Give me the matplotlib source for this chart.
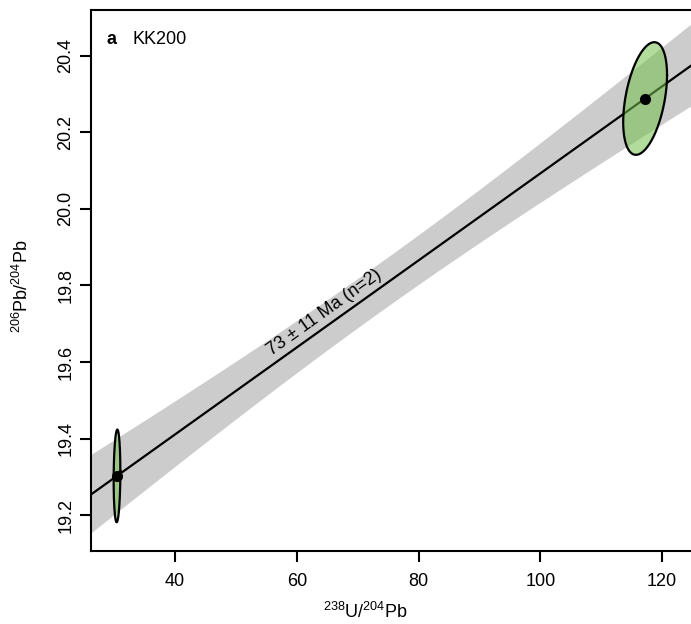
import numpy as np
import matplotlib
matplotlib.use('agg')
import matplotlib.pyplot as plt

plt.rcParams['font.family'] = ['Liberation Sans', 'DejaVu Sans']
plt.rcParams['mathtext.fontset'] = 'custom'
plt.rcParams['mathtext.rm'] = 'Liberation Sans'

# data (238U/204Pb, 206Pb/204Pb) with 2-sigma half extents and error correlation
x = [30.47, 117.2]
y = [19.303, 20.288]
ex = [0.55, 3.6]
ey = [0.121, 0.147]
rho = [0.1, 0.42]

# isochron fit
slope = (y[1] - y[0]) / (x[1] - x[0])
intercept = y[0] - slope * x[0]
band_a = 0.064      # half width of the band at the centroid
band_b = 0.00168    # growth of half width with distance from centroid
age_label = '73 ± 11 Ma (n=2)'

fig = plt.figure(figsize=(6.91, 6.24), dpi=100)
ax = fig.add_axes([91 / 691, 73 / 624, 615 / 691, 541 / 624])
ax.set_xlim(26.2, 127.2)
ax.set_ylim(19.107, 20.519)

xs = np.linspace(20, 135, 300)
yfit = intercept + slope * xs
xc = np.mean(x)
hw = np.sqrt(band_a ** 2 + band_b ** 2 * (xs - xc) ** 2)
ax.fill_between(xs, yfit - hw, yfit + hw, color='#cccccc', lw=0, zorder=1)
ax.plot(xs, yfit, color='black', lw=1.6, zorder=2)

t = np.linspace(0, 2 * np.pi, 200)
for i in range(len(x)):
    px = x[i] + ex[i] * np.cos(t)
    py = y[i] + ey[i] * (rho[i] * np.cos(t) + np.sqrt(1 - rho[i] ** 2) * np.sin(t))
    ax.fill(px, py, facecolor='#74c04c', alpha=0.55, edgecolor='none', zorder=3)
    ax.plot(px, py, color='black', lw=1.6, zorder=4)
ax.plot(x, y, 'o', color='black', ms=7, zorder=5)

# age label along the line
fig.canvas.draw()
lx = 65.3
p1 = ax.transData.transform((lx, intercept + slope * lx))
p2 = ax.transData.transform((lx + 10, intercept + slope * (lx + 10)))
ang = np.degrees(np.arctan2(p2[1] - p1[1], p2[0] - p1[0]))
ax.text(lx, intercept + slope * lx + 0.014, age_label, rotation=ang,
        rotation_mode='anchor', ha='center', va='bottom', fontsize=13, zorder=6)

ax.text(0.026, 0.962, 'a', transform=ax.transAxes, fontsize=13,
        fontweight='bold', va='top', ha='left')
ax.text(0.068, 0.962, 'KK200', transform=ax.transAxes, fontsize=13,
        va='top', ha='left')

ax.set_xticks([40, 60, 80, 100, 120])
ax.set_yticks([19.2, 19.4, 19.6, 19.8, 20.0, 20.2, 20.4])
ax.set_yticklabels(['19.2', '19.4', '19.6', '19.8', '20.0', '20.2', '20.4'],
                   rotation=90, va='center')
ax.tick_params(axis='both', direction='out', length=8, width=1.5,
               labelsize=13, color='black')
ax.tick_params(axis='x', pad=8)
ax.tick_params(axis='y', pad=4)
for s in ax.spines.values():
    s.set_linewidth(1.5)

ax.set_xlabel(r'$^{238}$U/$^{204}$Pb', fontsize=13)
ax.xaxis.set_label_coords(0.4455, -0.095)
ax.set_ylabel(r'$^{206}$Pb/$^{204}$Pb', fontsize=13)
ax.yaxis.set_label_coords(-0.096, 0.49)

fig.savefig('out.png', dpi=100)
